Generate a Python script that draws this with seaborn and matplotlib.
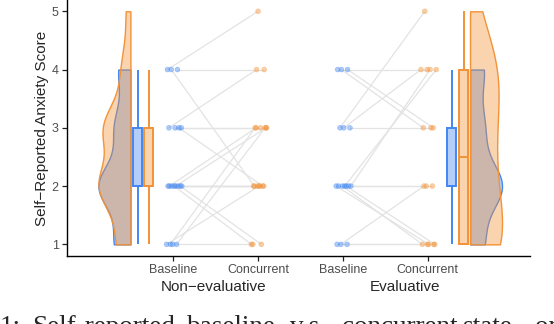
import numpy as np
import pandas as pd
import matplotlib
matplotlib.use("Agg")
import matplotlib.pyplot as plt
import seaborn as sns

# ---------------- data ----------------
group_labels = ["Non\u2212evaluative", "Evaluative"]
tick_labels = ["Baseline", "Concurrent", "Baseline", "Concurrent"]
y_ticks = [1, 2, 3, 4, 5]

noneval_baseline = [4, 4, 4, 3, 3, 3, 3, 1, 1, 1, 1, 2, 2, 2, 2, 2, 2, 2, 2]
noneval_concurrent = [5, 4, 2, 3, 3, 4, 2, 1, 2, 3, 3, 1, 1, 2, 2, 2, 2, 3, 3]
eval_baseline = [1, 1, 1, 2, 2, 2, 2, 2, 2, 2, 3, 3, 3, 4, 4, 4]
eval_concurrent = [1, 1, 2, 4, 4, 2, 2, 1, 1, 1, 5, 3, 4, 4, 3, 3]

caption_words = ["1:", "Self-reported", "baseline", "v.s.", "concurrent", "state", "or"]

# ---------------- styles ----------------
BLUE = "#4287F2"
ORANGE = "#F39237"
BLUE_FILL = "#B3CEFB"
ORANGE_FILL = "#FAD3AF"

sns.set_style("ticks")
plt.rcParams["font.family"] = ["Liberation Sans", "DejaVu Sans"]

fig = plt.figure(figsize=(5.54, 3.24), dpi=100)
ax = fig.add_axes([67 / 554, 1 - 256 / 324, (530 - 67) / 554, 256 / 324])

# long table with deterministic jitter positions
rows = []
sets = [(noneval_baseline, noneval_concurrent, 1, 2, "NE"),
        (eval_baseline, eval_concurrent, 3, 4, "E")]
for base, conc, pb, pc, g in sets:
    n = len(base)
    for i in range(n):
        jb = -0.09 + 0.19 * ((i * 0.618 + 0.11) % 1)
        jc = -0.09 + 0.19 * ((i * 0.382 + 0.47) % 1)
        rows.append(dict(pid=f"{g}{i}", time="Baseline", score=base[i], xpos=pb + jb))
        rows.append(dict(pid=f"{g}{i}", time="Concurrent", score=conc[i], xpos=pc + jc))
df = pd.DataFrame(rows)

# connecting lines
sns.lineplot(data=df, x="xpos", y="score", units="pid", estimator=None,
             color="#E3E3E3", linewidth=0.9, legend=False, ax=ax, zorder=1)
# points
sns.scatterplot(data=df, x="xpos", y="score", hue="time",
                palette={"Baseline": BLUE, "Concurrent": ORANGE},
                alpha=0.42, s=12, linewidth=0.5, edgecolor="face",
                legend=False, ax=ax, zorder=2)

VW = 0.377  # half-violin max extent (data units)


def half_violin(vals, flat, edge, right, bw):
    n = len(vals)
    before = len(ax.collections)
    if right:
        pos = flat + VW / 2
        sns.violinplot(x=np.full(n, pos), y=vals, hue=np.full(n, "b"),
                       hue_order=["a", "b"], palette={"a": edge, "b": edge},
                       dodge=False, native_scale=True, orient="x", split=True,
                       cut=0, inner=None, width=VW, linecolor=edge,
                       linewidth=1.0, saturation=1, density_norm="width",
                       bw_adjust=bw, legend=False, ax=ax)
    else:
        pos = flat - VW / 2
        sns.violinplot(x=np.full(n, pos), y=vals, native_scale=True, orient="x",
                       split=True, cut=0, inner=None, width=VW, color=edge,
                       linecolor=edge, linewidth=1.0, saturation=1,
                       density_norm="width", bw_adjust=bw, ax=ax)
    for c in ax.collections[before:]:
        c.set_facecolor(matplotlib.colors.to_rgba(edge, 0.4))
        c.set_edgecolor(edge)


half_violin(noneval_baseline, 0.494, BLUE, False, 0.7)
half_violin(noneval_concurrent, 0.494, ORANGE, False, 0.7)
half_violin(eval_baseline, 4.499, BLUE, True, 0.7)
half_violin(eval_concurrent, 4.499, ORANGE, True, 0.9)


def box(vals, pos, edge, fill):
    n = len(vals)
    sns.boxplot(x=np.full(n, pos), y=vals, native_scale=True, orient="x",
                width=0.105, color=fill, linecolor=edge, linewidth=1.4,
                saturation=1, showfliers=False, showcaps=False, whis=1.5, ax=ax)


box(noneval_baseline, 0.582, BLUE, BLUE_FILL)
box(noneval_concurrent, 0.712, ORANGE, ORANGE_FILL)
box(eval_baseline, 4.282, BLUE, BLUE_FILL)
box(eval_concurrent, 4.424, ORANGE, ORANGE_FILL)

# ---------------- axes ----------------
ax.set_xlim(-0.254, 5.206)
ax.set_ylim(0.80, 5.194)
ax.set_xticks([1, 2, 3, 4])
ax.set_xticklabels(tick_labels, fontsize=9, color="#4D4D4D")
ax.set_yticks(y_ticks)
ax.set_yticklabels([str(v) for v in y_ticks], fontsize=9, color="#4D4D4D")
ax.tick_params(axis="both", length=3.5, width=0.9, color="#222222", pad=2.5)
ax.set_xlabel("")
ax.set_ylabel("Self\u2212Reported Anxiety Score", fontsize=11, labelpad=2)
for s in ("top", "right"):
    ax.spines[s].set_visible(False)
for s in ("left", "bottom"):
    ax.spines[s].set_linewidth(1.0)
    ax.spines[s].set_color("black")

ax.text(1.476, -0.092, group_labels[0], transform=ax.get_xaxis_transform(),
        ha="center", va="top", fontsize=11)
ax.text(3.732, -0.092, group_labels[1], transform=ax.get_xaxis_transform(),
        ha="center", va="top", fontsize=11)

# cropped caption line below the chart (cut by the image edge, as in the source)
caption_x = [0, 32, 187, 290, 342, 463, 535]
for word, px in zip(caption_words, caption_x):
    fig.text(px / 554, 1 - 334 / 324, word, ha="left", va="baseline",
             fontsize=19.5, family=["Liberation Serif", "DejaVu Serif"])

fig.savefig("out.png", dpi=100)
